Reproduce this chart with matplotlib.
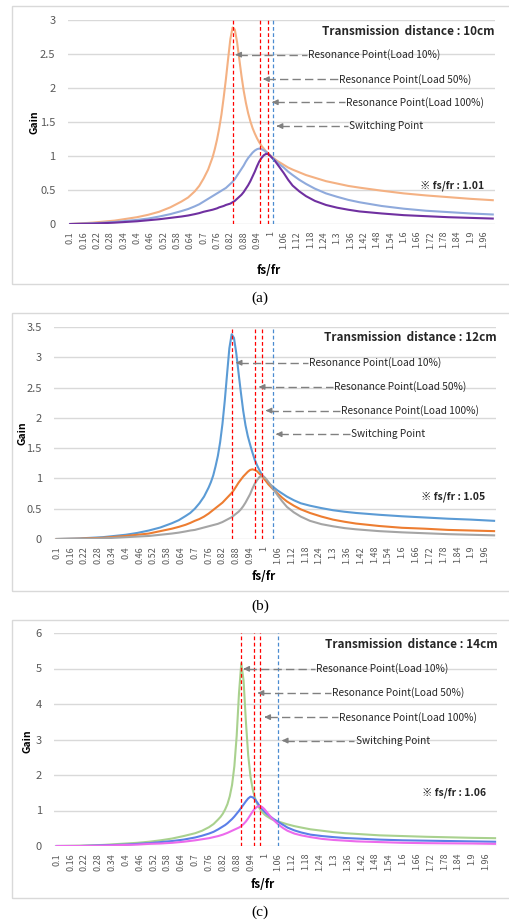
import matplotlib
matplotlib.use("Agg")
import matplotlib.pyplot as plt
from matplotlib.patches import Rectangle

W, H = 510, 924
FONT = ['Noto Sans CJK KR', 'DejaVu Sans']

XTICK_LABELS = ['0.1', '0.16', '0.22', '0.28', '0.34', '0.4', '0.46', '0.52', '0.58',
                '0.64', '0.7', '0.76', '0.82', '0.88', '0.94', '1', '1.06', '1.12',
                '1.18', '1.24', '1.3', '1.36', '1.42', '1.48', '1.54', '1.6', '1.66',
                '1.72', '1.78', '1.84', '1.9', '1.96']

# ---- (a) 10cm ----
X_A = [0.1, 0.2, 0.3, 0.4, 0.45, 0.5, 0.55, 0.6, 0.63, 0.66, 0.68, 0.7, 0.72, 0.74,
       0.75, 0.76, 0.77, 0.78, 0.79, 0.8, 0.81, 0.82, 0.83, 0.84, 0.85, 0.86, 0.87, 0.88,
       0.89, 0.9, 0.91, 0.92, 0.93, 0.94, 0.95, 0.96, 0.97, 0.98, 0.99, 1.0, 1.01, 1.02,
       1.03, 1.04, 1.06, 1.08, 1.1, 1.13, 1.16, 1.2, 1.25, 1.3, 1.35, 1.4, 1.5, 1.6, 1.7,
       1.8, 1.9, 2.0]
A_LOAD10 = [0.0, 0.02, 0.05, 0.10, 0.135, 0.18, 0.245, 0.33, 0.39, 0.48, 0.56, 0.67, 0.80, 0.98,
            1.10, 1.24, 1.41, 1.61, 1.86, 2.13, 2.43, 2.72, 2.89, 2.86, 2.68, 2.43, 2.18, 1.96,
            1.78, 1.63, 1.51, 1.41, 1.33, 1.26, 1.20, 1.15, 1.11, 1.07, 1.04, 1.01, 0.98, 0.955,
            0.93, 0.91, 0.87, 0.83, 0.80, 0.76, 0.72, 0.68, 0.63, 0.595, 0.56, 0.535, 0.49, 0.45,
            0.42, 0.395, 0.37, 0.35]
A_LOAD50 = [0.0, 0.01, 0.03, 0.06, 0.08, 0.11, 0.145, 0.19, 0.22, 0.26, 0.29, 0.33, 0.37, 0.41,
            0.43, 0.45, 0.47, 0.49, 0.51, 0.53, 0.56, 0.59, 0.62, 0.66, 0.71, 0.76, 0.81, 0.86,
            0.92, 0.97, 1.01, 1.05, 1.08, 1.10, 1.11, 1.10, 1.085, 1.06, 1.03, 1.00, 0.97, 0.94,
            0.91, 0.88, 0.83, 0.77, 0.72, 0.65, 0.59, 0.52, 0.45, 0.40, 0.355, 0.32, 0.265,
            0.225, 0.195, 0.175, 0.155, 0.14]
A_LOAD100 = [0.0, 0.005, 0.02, 0.04, 0.055, 0.07, 0.09, 0.11, 0.125, 0.145, 0.16, 0.18, 0.195,
             0.21, 0.22, 0.23, 0.245, 0.255, 0.265, 0.28, 0.29, 0.30, 0.32, 0.34, 0.37, 0.40,
             0.43, 0.47, 0.52, 0.57, 0.63, 0.70, 0.77, 0.85, 0.92, 0.97, 1.01, 1.03, 1.03, 1.00,
             0.965, 0.93, 0.885, 0.84, 0.75, 0.65, 0.565, 0.48, 0.41, 0.34, 0.28, 0.24, 0.21,
             0.185, 0.155, 0.13, 0.115, 0.10, 0.09, 0.08]

# ---- (b) 12cm ----
X_B = [0.1, 0.2, 0.3, 0.4, 0.45, 0.5, 0.55, 0.6, 0.63, 0.66, 0.68, 0.7, 0.72, 0.74, 0.76,
       0.77, 0.78, 0.79, 0.8, 0.81, 0.82, 0.83, 0.84, 0.85, 0.86, 0.87, 0.88, 0.89, 0.9,
       0.91, 0.92, 0.93, 0.94, 0.95, 0.96, 0.97, 0.98, 0.99, 1.0, 1.01, 1.02, 1.03, 1.04,
       1.06, 1.08, 1.1, 1.13, 1.16, 1.2, 1.25, 1.3, 1.35, 1.4, 1.5, 1.6, 1.7, 1.8, 1.9, 2.0]
B_LOAD10 = [0.0, 0.01, 0.03, 0.07, 0.10, 0.14, 0.19, 0.26, 0.31, 0.38, 0.43, 0.50, 0.59, 0.70,
            0.85, 0.94, 1.05, 1.20, 1.37, 1.60, 1.90, 2.28, 2.72, 3.15, 3.38, 3.32, 3.07, 2.74,
            2.42, 2.12, 1.88, 1.70, 1.56, 1.43, 1.31, 1.22, 1.14, 1.07, 1.01, 0.96, 0.92, 0.89,
            0.86, 0.80, 0.75, 0.70, 0.64, 0.59, 0.55, 0.51, 0.475, 0.45, 0.43, 0.40, 0.375,
            0.355, 0.335, 0.32, 0.30]
B_LOAD50 = [0.0, 0.005, 0.02, 0.05, 0.07, 0.09, 0.13, 0.17, 0.20, 0.235, 0.265, 0.30, 0.33,
            0.37, 0.42, 0.45, 0.48, 0.51, 0.54, 0.57, 0.60, 0.64, 0.68, 0.72, 0.76, 0.81, 0.87,
            0.93, 0.98, 1.03, 1.07, 1.11, 1.14, 1.15, 1.14, 1.12, 1.08, 1.04, 1.00, 0.95, 0.90,
            0.86, 0.82, 0.75, 0.68, 0.62, 0.55, 0.49, 0.43, 0.37, 0.32, 0.285, 0.255, 0.215,
            0.185, 0.17, 0.15, 0.14, 0.13]
B_LOAD100 = [0.0, 0.0, 0.01, 0.03, 0.04, 0.05, 0.07, 0.09, 0.105, 0.125, 0.14, 0.15, 0.17, 0.19,
             0.21, 0.22, 0.23, 0.24, 0.25, 0.265, 0.28, 0.30, 0.32, 0.34, 0.36, 0.39, 0.42,
             0.45, 0.49, 0.54, 0.60, 0.67, 0.74, 0.83, 0.91, 0.97, 1.02, 1.04, 1.03, 0.99, 0.94,
             0.89, 0.83, 0.72, 0.62, 0.53, 0.44, 0.37, 0.30, 0.245, 0.21, 0.18, 0.16, 0.13,
             0.11, 0.095, 0.08, 0.07, 0.06]

# ---- (c) 14cm ----
X_C = [0.1, 0.2, 0.3, 0.4, 0.45, 0.5, 0.55, 0.6, 0.65, 0.7, 0.73, 0.76, 0.78, 0.8, 0.81,
       0.82, 0.83, 0.84, 0.85, 0.86, 0.87, 0.88, 0.89, 0.9, 0.91, 0.92, 0.93, 0.94, 0.95,
       0.96, 0.97, 0.98, 0.99, 1.0, 1.01, 1.02, 1.03, 1.04, 1.05, 1.06, 1.08, 1.1, 1.13,
       1.16, 1.2, 1.25, 1.3, 1.35, 1.4, 1.5, 1.6, 1.7, 1.8, 1.9, 2.0]
C_LOAD10 = [0.0, 0.01, 0.03, 0.07, 0.09, 0.12, 0.16, 0.21, 0.28, 0.36, 0.43, 0.53, 0.62, 0.75,
            0.82, 0.91, 1.03, 1.18, 1.40, 1.72, 2.25, 3.10, 4.30, 5.15, 4.65, 3.50, 2.55, 1.95,
            1.58, 1.34, 1.17, 1.05, 0.96, 0.89, 0.84, 0.80, 0.76, 0.73, 0.71, 0.69, 0.65, 0.61,
            0.56, 0.52, 0.47, 0.43, 0.39, 0.36, 0.34, 0.30, 0.28, 0.26, 0.245, 0.23, 0.22]
C_LOAD50 = [0.0, 0.0, 0.02, 0.04, 0.06, 0.08, 0.11, 0.14, 0.18, 0.24, 0.29, 0.35, 0.40, 0.47,
            0.51, 0.55, 0.59, 0.64, 0.70, 0.76, 0.83, 0.91, 0.99, 1.08, 1.17, 1.26, 1.34, 1.39,
            1.37, 1.31, 1.22, 1.12, 1.04, 0.97, 0.91, 0.86, 0.81, 0.76, 0.72, 0.68, 0.60, 0.52,
            0.44, 0.38, 0.32, 0.28, 0.25, 0.225, 0.21, 0.18, 0.16, 0.15, 0.14, 0.13, 0.12]
C_LOAD100 = [0.0, 0.0, 0.01, 0.03, 0.04, 0.06, 0.07, 0.09, 0.12, 0.16, 0.19, 0.22, 0.25, 0.28,
             0.30, 0.32, 0.345, 0.37, 0.40, 0.43, 0.46, 0.49, 0.52, 0.56, 0.62, 0.69, 0.78,
             0.88, 0.98, 1.06, 1.11, 1.13, 1.10, 1.04, 0.96, 0.88, 0.80, 0.73, 0.67, 0.61, 0.51,
             0.43, 0.35, 0.30, 0.25, 0.20, 0.17, 0.15, 0.13, 0.11, 0.09, 0.08, 0.075, 0.07, 0.06]

NOTES = ['Resonance Point(Load 10%)', 'Resonance Point(Load 50%)',
         'Resonance Point(Load 100%)', 'Switching Point']

panels = [
    dict(x=X_A, ys=[A_LOAD10, A_LOAD50, A_LOAD100],
         colors=['#F4B183', '#8FAADC', '#7030A0'],
         ymax=3, ystep=0.5, box=(6, 284), axes=(68, 20, 427, 204),
         red=[0.83, 0.955, 0.99], blue=1.012, fsfr='1.01', dist='10cm', title_y=0.945,
         note_x=[1.165, 1.305, 1.335, 1.35], note_y=[2.49, 2.13, 1.79, 1.44],
         head_x=[0.83, 0.955, 0.995, 1.016], ratio_y=0.56,
         gain=(35, 122), xlab=(269, 271), cap=(260, 298), cap_txt='(a)'),
    dict(x=X_B, ys=[B_LOAD10, B_LOAD50, B_LOAD100],
         colors=['#5B9BD5', '#ED7D31', '#A5A5A5'],
         ymax=3.5, ystep=0.5, box=(313, 591), axes=(54.4, 327, 442, 212),
         red=[0.863, 0.96, 0.993], blue=1.038, fsfr='1.05', dist='12cm', title_y=0.95,
         note_x=[1.19, 1.30, 1.33, 1.373], note_y=[2.91, 2.51, 2.12, 1.73],
         head_x=[0.866, 0.966, 0.996, 1.04], ratio_y=0.69,
         gain=(23, 433), xlab=(264, 576), cap=(260, 606), cap_txt='(b)'),
    dict(x=X_C, ys=[C_LOAD10, C_LOAD50, C_LOAD100],
         colors=['#A9D18E', '#5B7FE8', '#EC6AEC'],
         ymax=6, ystep=1, box=(620, 898), axes=(54.4, 633, 443, 213),
         red=[0.90, 0.955, 0.982], blue=1.06, fsfr='1.06', dist='14cm', title_y=0.945,
         note_x=[1.22, 1.29, 1.32, 1.39], note_y=[4.99, 4.31, 3.63, 2.97],
         head_x=[0.897, 0.959, 0.988, 1.064], ratio_y=1.5,
         gain=(28, 741), xlab=(263, 885), cap=(260, 912), cap_txt='(c)'),
]

fig = plt.figure(figsize=(W / 100, H / 100), dpi=100)
fig.patch.set_facecolor('white')

for p in panels:
    top, bot = p['box']
    fig.patches.append(Rectangle((11.7 / W, 1 - bot / H), 1.0, (bot - top) / H,
                                 transform=fig.transFigure, fill=False,
                                 edgecolor='#D9D9D9', lw=1.0))
    left, ytop, width, height = p['axes']
    ax = fig.add_axes([left / W, 1 - (ytop + height) / H, width / W, height / H])
    ax.set_xlim(0.09, 2.01)
    ax.set_ylim(0, p['ymax'])

    n = int(round(p['ymax'] / p['ystep']))
    yt = [i * p['ystep'] for i in range(n + 1)]
    ax.set_yticks(yt)
    ax.set_yticklabels(['{:g}'.format(v) for v in yt], family=FONT, fontsize=8,
                       color='#595959')
    ax.set_xticks([float(s) for s in XTICK_LABELS])
    ax.set_xticklabels(XTICK_LABELS, rotation=90, family=FONT, fontsize=6.5,
                       color='#595959')
    ax.tick_params(length=0, axis='y', pad=9)
    ax.tick_params(length=0, axis='x', pad=5)
    ax.grid(axis='y', color='#D9D9D9', lw=1.0)
    ax.set_axisbelow(True)
    for s in ax.spines.values():
        s.set_visible(False)

    for y, c in zip(p['ys'], p['colors']):
        ax.plot(p['x'], y, color=c, lw=1.5, zorder=3, solid_joinstyle='round')

    for xr in p['red']:
        ax.axvline(xr, color='#FF0000', ls=(0, (3, 2)), lw=0.9, zorder=4)
    ax.axvline(p['blue'], color='#4A8BD0', ls=(0, (3, 2)), lw=0.9, zorder=4)

    for txt, tx, ty, hx in zip(NOTES, p['note_x'], p['note_y'], p['head_x']):
        ax.text(tx + 0.005, ty, txt, family=FONT, fontsize=7.3, color='#262626',
                va='center', ha='left', zorder=6)
        ax.plot([hx + 0.03, tx], [ty, ty], color='#808080', lw=1.0,
                ls=(0, (6, 3)), zorder=5)
        ax.annotate('', xy=(hx, ty), xytext=(hx + 0.035, ty),
                    arrowprops=dict(arrowstyle='-|>', color='#808080', lw=1.0,
                                    mutation_scale=8), zorder=5)

    ax.text(1.0, p['title_y'], 'Transmission  distance : ' + p['dist'],
            transform=ax.transAxes, ha='right', va='center', family=FONT,
            fontsize=8.5, fontweight='bold', color='#262626')
    ax.text(1.96, p['ratio_y'], '※ fs/fr : ' + p['fsfr'], ha='right', va='center',
            family=FONT, fontsize=7.5, fontweight='bold', color='#262626')

    gx, gy = p['gain']
    fig.text(gx / W, 1 - gy / H, 'Gain', rotation=90, ha='center', va='center',
             family=FONT, fontsize=7.5, fontweight='bold', color='black')
    lx, ly = p['xlab']
    fig.text(lx / W, 1 - ly / H, 'fs/fr', ha='center', va='center',
             family=FONT, fontsize=8.5, fontweight='bold', color='black')
    cx, cy = p['cap']
    fig.text(cx / W, 1 - cy / H, p['cap_txt'], ha='center', va='center',
             family='Liberation Serif', fontsize=11, color='black')

fig.savefig('out.png', dpi=100, facecolor='white')
